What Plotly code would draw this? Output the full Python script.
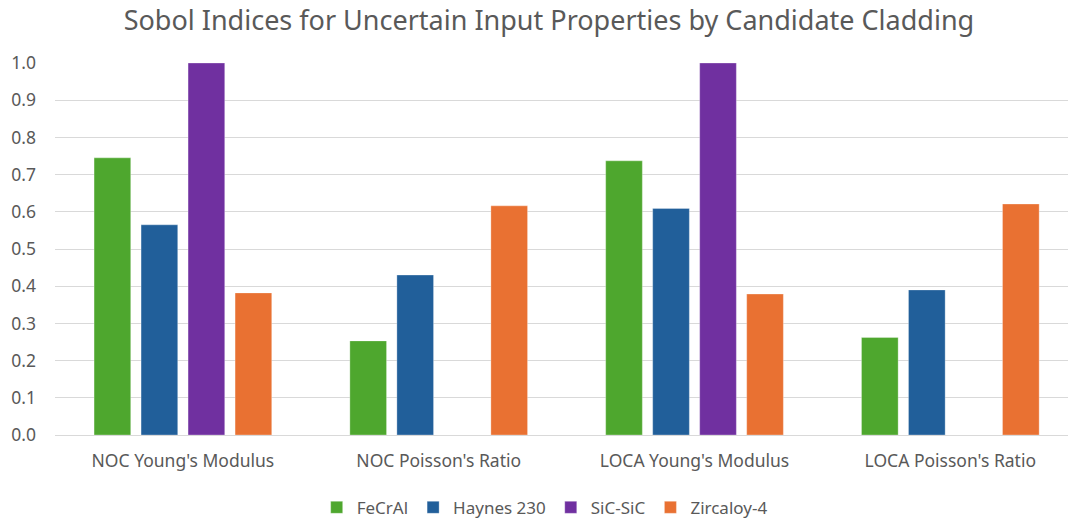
import plotly.graph_objects as go

# Sobol indices
categories = ["NOC Young's Modulus", "NOC Poisson's Ratio", "LOCA Young's Modulus", "LOCA Poisson's Ratio"]
fecral = [0.745, 0.253, 0.737, 0.262]
haynes = [0.565, 0.430, 0.609, 0.390]
sic = [1.0, 0.0, 1.0, 0.0]
zircaloy = [0.382, 0.616, 0.379, 0.621]

series = [
    ("FeCrAl", fecral, "#4EA72E"),
    ("Haynes 230", haynes, "#215F9A"),
    ("SiC-SiC", sic, "#7030A0"),
    ("Zircaloy-4", zircaloy, "#E97132"),
]

font = "Noto Sans"
grey = "#595959"

fig = go.Figure()
for name, vals, color in series:
    fig.add_trace(go.Bar(x=categories, y=vals, name=name, marker_color=color,
                         marker_line=dict(width=0.6, color="rgba(255,255,255,0.5)")))

fig.update_layout(
    width=1068, height=524,
    paper_bgcolor="white", plot_bgcolor="white",
    font=dict(family=font, size=17, color=grey),
    title=dict(text="Sobol Indices for Uncertain Input Properties by Candidate Cladding",
               x=0.514, xref="container", xanchor="center",
               y=0.961, yref="container", yanchor="middle",
               font=dict(size=27, color=grey)),
    barmode="group", bargap=0.265, bargroupgap=0.22,
    margin=dict(l=55, r=0, t=63, b=89),
    legend=dict(orientation="h", xref="container", x=0.51, xanchor="center",
                yref="container", y=0.031, yanchor="middle",
                font=dict(size=17, color=grey), itemwidth=30,
                traceorder="normal"),
    showlegend=True,
)
fig.update_xaxes(range=[-0.5, 3.46], showgrid=False, showline=False, ticks="",
                 ticklabelstandoff=13, tickfont=dict(size=17.5, color=grey))
fig.update_yaxes(range=[0, 1.0], dtick=0.1, tickformat=".1f", showgrid=True,
                 gridcolor="#D9D9D9", gridwidth=1, zeroline=True, zerolinecolor="#D9D9D9",
                 zerolinewidth=1, ticks="", ticklabelstandoff=18,
                 tickfont=dict(size=17.5, color=grey))

# drop the default page margin so the figure fills the window
fig.write_html("out.html", config={"displayModeBar": False},
               post_script="document.body.style.margin='0';")
